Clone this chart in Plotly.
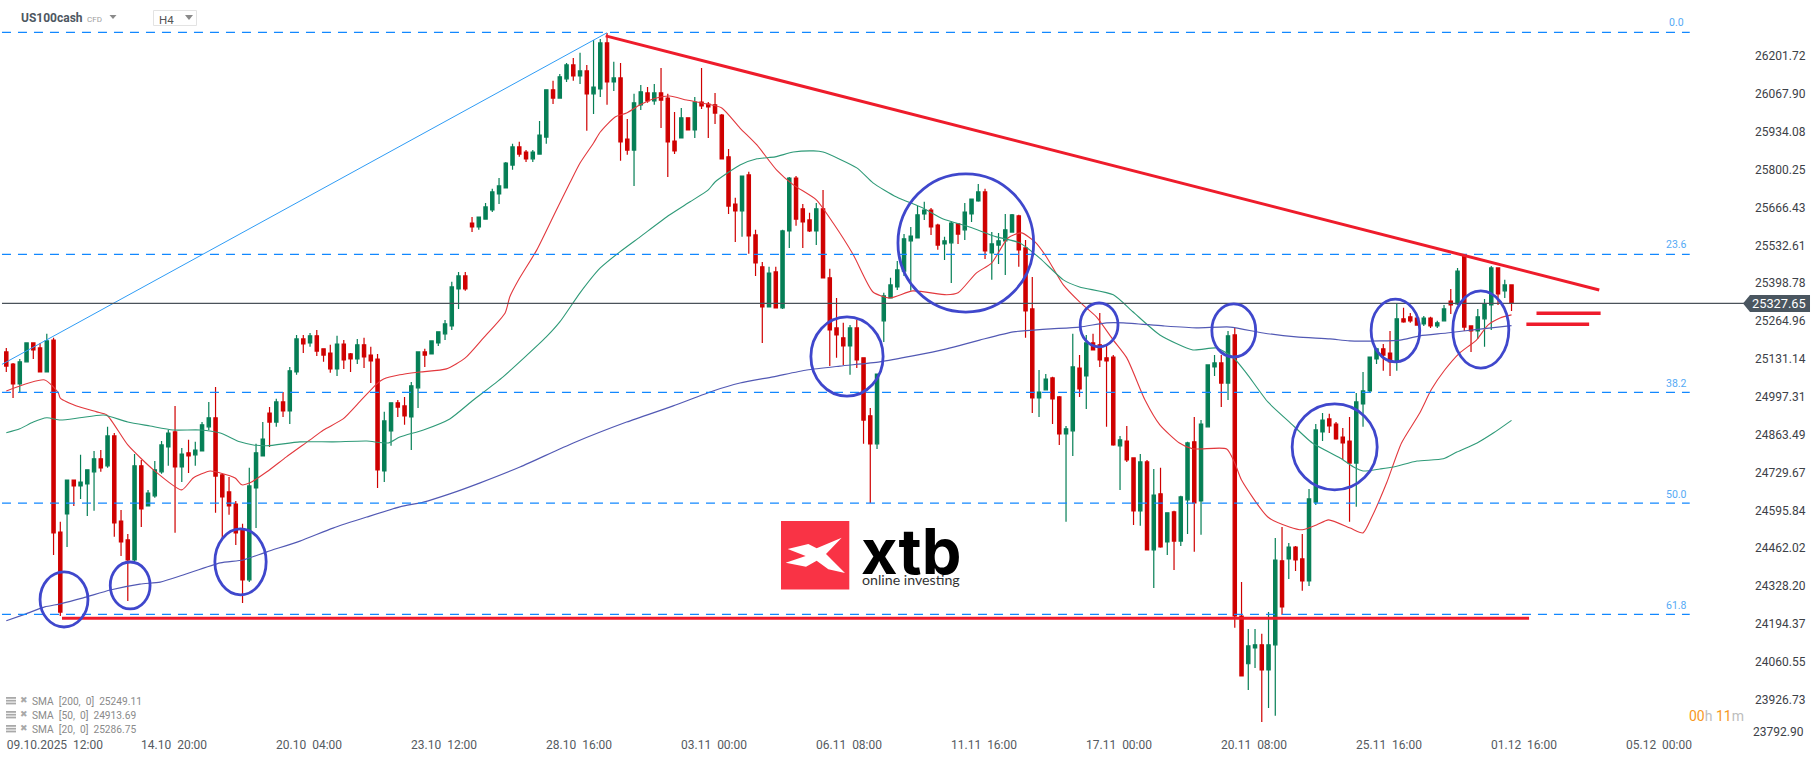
import plotly.graph_objects as go

W, H = 1815, 761

# ---------- candles (H4) ----------
OPEN = [
25156,25113,25043,25121,25188,25170,25085,25198,24519,24583,
24703,24682,24689,24732,24778,24753,24859,24558,24491,24420,
24753,24611,24647,24732,24820,24873,24749,24799,24792,24806,
24891,24923,24721,24661,24618,24526,24350,24675,24788,24940,
24908,24979,24947,25085,25202,25188,25213,25167,25152,25096,
25184,25149,25131,25181,25145,25131,24735,24877,24976,24965,
24926,25029,25156,25149,25188,25220,25248,25379,25425,25612,
25598,25626,25658,25715,25736,25817,25881,25863,25839,25856,
25916,26083,26054,26122,26171,26132,26150,26069,26086,26249,
26111,26125,25909,25870,26030,26072,26044,26072,26054,25902,
25913,25984,25941,26040,26033,26030,25994,25846,25679,25655,
25782,25570,25457,25315,25439,25312,25584,25771,25662,25623,
25584,25662,25418,25241,25206,25177,25241,25135,24930,24831,
25266,25347,25386,25442,25549,25559,25644,25658,25605,25538,
25542,25609,25588,25644,25690,25722,25506,25534,25549,25580,
25637,25524,25308,24993,25022,25064,24997,24866,24877,25099,
25071,25188,25181,25135,25138,24824,24841,24781,24594,24767,
24456,24654,24484,24590,24487,24633,24838,24629,24891,25103,
25117,25046,25216,24222,24053,24109,24120,24031,24120,24417,
24424,24466,24424,24346,24625,24873,24919,24901,24855,24841,
24763,24972,25018,25131,25167,25152,25121,25273,25280,25276,
25255,25276,25248,25266,25336,25326,25499,25248,25230,25273,
25322,25453,25372,25393]
HIGH = [
25170,25117,25131,25188,25188,25188,25220,25206,24555,24703,
24703,24792,24739,24806,24809,24891,24869,24597,24512,24795,
24774,24668,24770,24841,24880,24965,24816,24845,24838,24908,
24979,25032,24725,24714,24629,24548,24746,24831,24908,24961,
24990,25014,25103,25216,25216,25223,25234,25167,25181,25213,
25198,25152,25202,25206,25174,25149,24944,24976,24986,24997,
25050,25156,25167,25195,25227,25269,25404,25439,25439,25633,
25633,25683,25733,25771,25828,25892,25899,25870,25870,25973,
26083,26115,26139,26178,26196,26214,26171,26259,26263,26284,
26182,26178,25980,26069,26100,26093,26104,26160,26069,26005,
26019,25984,26058,26160,26040,26072,25998,25874,25701,25778,
25793,25588,25474,25457,25457,25588,25775,25778,25679,25648,
25683,25729,25450,25347,25259,25251,25269,25135,24958,25078,
25365,25418,25478,25573,25598,25672,25687,25665,25609,25563,
25619,25609,25683,25697,25750,25733,25580,25577,25644,25644,
25641,25552,25421,25092,25078,25068,25000,24894,25220,25145,
25216,25220,25294,25181,25145,24859,24894,24781,24795,24774,
24742,24746,24587,24594,24647,24838,24926,24915,25110,25145,
25145,25230,25241,24342,24176,24176,24159,24236,24498,24537,
24480,24470,24512,24671,24901,24940,24937,24908,24887,24926,
25011,25085,25138,25167,25184,25230,25326,25312,25294,25276,
25283,25280,25266,25322,25379,25453,25499,25248,25308,25343,
25460,25453,25411,25393]
LOW = [
25085,24993,25014,25121,25131,25085,25085,24438,24222,24466,
24611,24636,24576,24594,24732,24746,24502,24434,24275,24413,
24537,24611,24640,24725,24753,24516,24696,24728,24753,24806,
24880,24587,24498,24580,24473,24268,24342,24533,24788,24820,
24891,24926,24901,25075,25152,25174,25142,25121,25082,25071,
25096,25085,25113,25099,25046,24675,24696,24824,24926,24898,
24809,24958,25103,25149,25177,25198,25234,25308,25372,25580,
25588,25626,25651,25679,25736,25800,25846,25828,25828,25856,
25892,26033,26054,26111,26115,26104,25938,25998,26058,26030,
26079,25832,25853,25743,26012,26037,26030,25948,25775,25856,
25913,25941,25913,26015,25913,25962,25839,25644,25545,25563,
25503,25425,25188,25315,25312,25308,25524,25602,25524,25580,
25534,25418,25106,25135,25110,25075,25099,24831,24622,24813,
25191,25347,25375,25425,25372,25559,25623,25570,25517,25481,
25400,25538,25552,25616,25687,25485,25411,25467,25428,25580,
25457,25206,24940,24926,25022,24901,24827,24555,24788,24997,
24954,25163,25103,24891,24824,24668,24767,24544,24541,24456,
24321,24463,24438,24385,24470,24512,24449,24509,24891,25071,
24961,24986,24180,24010,23960,24038,23847,23897,23869,24226,
24353,24381,24311,24328,24615,24841,24869,24845,24774,24555,
24608,24891,25014,25113,25089,25071,25089,25259,25259,25251,
25248,25241,25241,25266,25290,25322,25230,25156,25202,25174,
25234,25322,25347,25301]
CLOSE = [
25106,25043,25121,25188,25163,25085,25195,24516,24236,24703,
24682,24696,24739,24778,24746,24859,24551,24484,24420,24753,
24601,24657,24739,24827,24869,24749,24795,24788,24809,24898,
24923,24717,24643,24611,24516,24350,24682,24799,24848,24908,
24979,24947,25089,25202,25184,25213,25159,25145,25096,25184,
25128,25131,25181,25138,25124,24739,24912,24976,24961,24930,
25036,25156,25145,25195,25227,25255,25386,25425,25379,25598,
25633,25669,25722,25743,25824,25881,25856,25839,25863,25923,
26083,26054,26129,26171,26132,26150,26069,26093,26249,26111,
26125,25899,25870,26037,26076,26044,26072,26047,25899,25867,
25984,25941,26040,26026,26023,26001,25839,25672,25655,25778,
25566,25471,25315,25435,25312,25584,25771,25626,25616,25584,
25662,25418,25234,25216,25177,25241,25128,24915,24831,25078,
25354,25393,25446,25556,25566,25641,25658,25598,25534,25549,
25612,25573,25651,25697,25722,25513,25538,25549,25588,25641,
25517,25301,24993,25014,25060,24990,24866,24884,25103,25025,
25188,25163,25128,25124,24827,24845,24774,24594,24767,24456,
24650,24466,24587,24487,24643,24834,24622,24901,25110,25117,
25046,25213,24222,24010,24116,24120,24031,24120,24420,24254,
24466,24420,24346,24636,24880,24915,24894,24848,24834,24763,
24979,25018,25138,25167,25145,25121,25273,25262,25266,25251,
25276,25248,25259,25308,25322,25442,25244,25230,25280,25326,
25453,25361,25393,25329]
CANDLE_IDX = list(range(len(OPEN)))

# ---------- moving averages (candle position, price) ----------
SMA20_IDX = [0,5.7,7.7,8,10.9,13.4,14.9,18,21.8,26,27.7,30.2,31.7,33.9,34.9,36.1,38.6,41.5,45,47,49.9,52.6,54.9,55.9,58.3,61.3,65.2,68,70.7,73.9,74.6,75.9,78.6,81.5,83.5,85,87,88,90.2,91.9,93.9,96.3,98.3,100.8,103.8,106,108.7,111.2,114.1,116.6,120,122.5,125.5,128.4,130.9,134.3,139.3,141,143.7,146,148.4,150.4,152.4,154.1,156.6,159,161.5,164,166,168.7,170.9,173.8,175.8,180.8,182,183,186.9,190.1,192,194.1,195.9,199.1,201,202.3,204.5,206.7,209.4,211.1,213.1,215.3,217.8,219.5,221.3,223]
SMA20 = [25018,25057,25011,24993,24961,24944,24933,24827,24739,24668,24710,24735,24728,24710,24686,24693,24732,24785,24845,24880,24919,24986,25043,25060,25075,25085,25096,25135,25206,25294,25351,25411,25517,25658,25754,25824,25895,25934,25987,26001,26030,26054,26061,26047,26033,26019,25948,25888,25800,25747,25694,25612,25499,25368,25347,25372,25358,25365,25435,25471,25559,25577,25545,25492,25393,25333,25280,25198,25135,24986,24898,24834,24813,24813,24763,24703,24572,24537,24527,24544,24562,24533,24516,24572,24693,24834,24940,25022,25092,25152,25198,25251,25276,25287]
SMA50_IDX = [0,2,4,6,8,10.9,14.4,18,21.3,24.7,28.7,31.7,34.6,36.6,38.6,43.5,48.4,53.4,56.6,58.3,61.8,65.7,69.2,73.6,80,82,85,88,90.9,93.9,98.3,101.3,104,105,108.7,111.2,113.9,116.6,119.6,121,126,128.4,131.9,135.8,138.8,142.7,146.7,150.1,153.1,156.6,159,164,166.9,170.9,175.8,179.3,181.7,183.7,186.9,190.1,193.5,197.6,199.6,201,203.5,205.5,209,212.9,214.9,217.9,220.3,223]
SMA50 = [24870,24884,24908,24923,24915,24923,24933,24908,24894,24880,24880,24869,24838,24827,24824,24838,24838,24841,24834,24855,24880,24919,24986,25068,25209,25262,25365,25453,25510,25563,25641,25687,25729,25757,25817,25839,25846,25863,25867,25863,25807,25754,25704,25665,25626,25598,25563,25542,25488,25411,25386,25358,25298,25216,25163,25170,25138,25082,24979,24908,24834,24781,24749,24735,24742,24749,24770,24778,24802,24834,24869,24914]
SMA200_IDX = [0,2.5,5.7,8,11.4,15.4,19.8,22.8,26.2,31.7,35.1,38.6,43.5,48.4,53.4,58.3,61.8,65.7,70.2,76.1,84,91.9,98.8,104.7,108.7,113.6,118.6,123.5,129.4,134.3,139.3,144.2,149.2,154.1,159,163,165.5,171.4,176.3,181.3,186.2,191.1,196.1,199,203.5,206.5,209.4,213.4,218.3,223]
SMA200 = [24205,24226,24254,24265,24286,24314,24335,24342,24367,24410,24420,24449,24487,24533,24572,24608,24625,24654,24693,24749,24834,24908,24965,25018,25046,25068,25092,25106,25121,25142,25167,25198,25227,25237,25244,25259,25259,25248,25241,25244,25223,25209,25202,25195,25195,25198,25213,25223,25237,25249]

# ---------- axes ----------
Y_TICKS = [26201.72,26067.90,25934.08,25800.25,25666.43,25532.61,25398.78,25264.96,25131.14,24997.31,24863.49,24729.67,24595.84,24462.02,24328.20,24194.37,24060.55,23926.73]
Y_LAST_TICK = "23792.90"
TIME_LABELS = ["09.10.2025  12:00","14.10  20:00","20.10  04:00","23.10  12:00","28.10  16:00","03.11  00:00","06.11  08:00","11.11  16:00","17.11  00:00","20.11  08:00","25.11  16:00","01.12  16:00","05.12  00:00"]
TIME_POS = [7.2] + [24.85 + 20 * k for k in range(12)]

# ---------- drawn tools ----------
LAST_PRICE = 25327.65
FIB_LEVELS = [26286, 25501, 25013, 24621, 24228]
FIB_NAMES = ["0.0", "23.6", "38.2", "50.0", "61.8"]
FIB_IDX = [-0.64, 249.4]
FIB_BASE_IDX, FIB_BASE_PRICE = [-0.64, 89], [25112, 26285]
TREND_IDX, TREND_PRICE = [88.8, 236.0], [26274, 25375]
SUPPORT_IDX, SUPPORT_PRICE = [8.25, 225.6], [24214, 24214]
MARK1_IDX, MARK1_PRICE = [226.7, 236.2], [25293, 25293]
MARK2_IDX, MARK2_PRICE = [225.2, 234.5], [25254, 25254]
CIRCLES = [  # idx from, idx to, price from, price to
    (5.0, 12.1, 24378, 24183), (15.4, 21.3, 24413, 24247), (30.9, 38.5, 24530, 24297),
    (119.2, 129.9, 25280, 25000), (132.1, 152.2, 25786, 25297), (159.1, 164.7, 25329, 25174),
    (178.6, 185.1, 25326, 25138), (190.5, 203.1, 24972, 24668), (202.2, 209.4, 25343, 25121),
    (214.3, 222.6, 25372, 25099),
]
SMA_LEGEND = ["SMA  [200,  0]  25249.11", "SMA  [50,  0]  24913.69", "SMA  [20,  0]  25286.75"]

RED, GREEN = "#cf0000", "#067f56"
LINE_RED = "#ee1c2b"
FONT = "Roboto"

fig = go.Figure()
fig.add_trace(go.Candlestick(
    x=CANDLE_IDX, open=OPEN, high=HIGH, low=LOW, close=CLOSE, whiskerwidth=0,
    increasing=dict(line=dict(color=GREEN, width=1.2), fillcolor=GREEN),
    decreasing=dict(line=dict(color=RED, width=1.2), fillcolor=RED),
    hoverinfo="skip", showlegend=False))

def line(x, y, color, width, dash=None, smooth=False):
    ln = dict(color=color, width=width, dash=dash)
    if smooth:
        ln.update(shape="spline", smoothing=0.6)
    fig.add_trace(go.Scatter(x=x, y=y, mode="lines", hoverinfo="skip", showlegend=False, line=ln))

line(SMA20_IDX, SMA20, "#e2383d", 1.1, smooth=True)
line(SMA50_IDX, SMA50, "#2f9a78", 1.1, smooth=True)
line(SMA200_IDX, SMA200, "#5259b4", 1.2, smooth=True)
for lvl in FIB_LEVELS:
    line(FIB_IDX, [lvl, lvl], "#1288ff", 1.2, "9px,7px")
line(FIB_BASE_IDX, FIB_BASE_PRICE, "#2f9cf5", 1)
line([FIB_IDX[0], 258], [LAST_PRICE, LAST_PRICE], "#4a525a", 1.1)
line(TREND_IDX, TREND_PRICE, LINE_RED, 3)
line(SUPPORT_IDX, SUPPORT_PRICE, LINE_RED, 3)
line(MARK1_IDX, MARK1_PRICE, LINE_RED, 3.6)
line(MARK2_IDX, MARK2_PRICE, LINE_RED, 3.6)

shapes = [dict(type="circle", xref="x", yref="y", x0=a, x1=b, y0=c, y1=d,
               line=dict(color="#3f47cc", width=2.8)) for a, b, c, d in CIRCLES]

def px(x): return x / W
def py(y): return 1 - y / H
def poly(points, fill, lw=0, lc=None):
    path = "M " + " L ".join(f"{px(x):.5f},{py(y):.5f}" for x, y in points) + " Z"
    return dict(type="path", xref="paper", yref="paper", path=path, fillcolor=fill,
                line=dict(width=lw, color=lc or fill))

shapes.append(poly([(1743, 303.5), (1750, 295), (1810, 295), (1810, 312), (1750, 312)], "#4a5660"))
shapes.append(poly([(109.5, 15), (116.5, 15), (113, 19)], "#8a8a8a"))
shapes.append(poly([(185, 15), (193, 15), (189, 20)], "#8a8a8a"))
shapes.append(dict(type="rect", xref="paper", yref="paper", x0=px(153.5), x1=px(196.5), y0=py(10.5), y1=py(25.5),
                   line=dict(color="#e3e3e3", width=1), fillcolor="rgba(0,0,0,0)"))
shapes.append(dict(type="rect", xref="paper", yref="paper", x0=px(781), x1=px(849.3), y0=py(521), y1=py(589.5),
                   fillcolor="#f93345", line=dict(width=0)))
LOGO_ZOOM = [(143,177),(205,162),(230,175),(305,143),(258,192),(315,249),(265,238),(230,212),(198,230),(137,218),(197,198)]
shapes.append(poly([(740 + a / 3, 490 + b / 3) for a, b in LOGO_ZOOM], "#ffffff"))
for yy in (701, 715, 729):
    for dy in (-4, -1.2, 1.6):
        shapes.append(dict(type="rect", xref="paper", yref="paper", x0=px(6), x1=px(16), y0=py(yy + dy), y1=py(yy + dy + 1.8),
                           fillcolor="#a9a9a9", line=dict(width=0)))

def note(text, x, y, size, color, anchor="left", family=FONT, **kw):
    return dict(text=text, xref="paper", yref="paper", x=px(x), y=py(y), xanchor=anchor, yanchor="middle",
                showarrow=False, font=dict(family=family, size=size, color=color), borderpad=0, **kw)

ann = []
ann.append(note("<b>US100cash</b>", 20, 18, 12, "#4d5761"))
ann.append(note("CFD", 86, 19, 8, "#a0a0a0"))
ann.append(note("H4", 158, 19.5, 11.5, "#555555"))
ann.append(note("25327.65", 1779, 303.7, 12.8, "#ffffff", "center"))
ann.append(note(Y_LAST_TICK, 1805, 731.5, 12, "#3c4147", "right"))
for name, lvl_y in zip(FIB_NAMES, (23, 245, 383, 494, 605)):
    ann.append(note(name, 1676, lvl_y, 10.5, "#55aaf5", "center"))
for row, yy in zip(SMA_LEGEND, (701, 715, 729)):
    ann.append(note(row, 31, yy, 10.2, "#8a8a8a"))
    ann.append(note("✖", 19, yy - 1, 9, "#a9a9a9", family="DejaVu Sans"))
ann.append(note('<span style="color:#f7981d">00</span><span style="color:#bdbdbd">h</span> '
                '<span style="color:#f7981d">11</span><span style="color:#bdbdbd">m</span>',
                1688, 716, 14, "#f7981d"))
ann.append(note("<b>xtb</b>", 860, 551, 63, "#000000", family="Inter"))
ann.append(note("online investing", 861, 579, 14.2, "#333333", family="Lato"))

fig.update_layout(
    width=W, height=H, margin=dict(l=0, r=0, t=0, b=0), autosize=False,
    paper_bgcolor="white", plot_bgcolor="white", hovermode=False, dragmode=False,
    showlegend=False, shapes=shapes, annotations=ann,
    font=dict(family=FONT, size=12, color="#3c4147"),
    xaxis=dict(range=[-0.933, 267.96], rangeslider=dict(visible=False), showgrid=False, zeroline=False,
               showline=False, tickmode="array", tickvals=TIME_POS, ticktext=TIME_LABELS,
               ticklabelposition="inside", ticks="inside", ticklen=9, tickcolor="rgba(0,0,0,0)",
               tickfont=dict(family=FONT, size=12, color="#555b61")),
    yaxis=dict(range=[23709.1, 26400.8], side="right", showgrid=False, zeroline=False, showline=False,
               tickmode="array", tickvals=Y_TICKS, ticktext=[f"{v:.2f}" for v in Y_TICKS],
               ticklabelposition="inside", ticks="inside", ticklen=9, tickcolor="rgba(0,0,0,0)",
               tickfont=dict(family=FONT, size=12, color="#3c4147")),
)

fig.write_html("out.html", config=dict(displayModeBar=False, staticPlot=True),
               post_script="document.body.style.margin='0';")
